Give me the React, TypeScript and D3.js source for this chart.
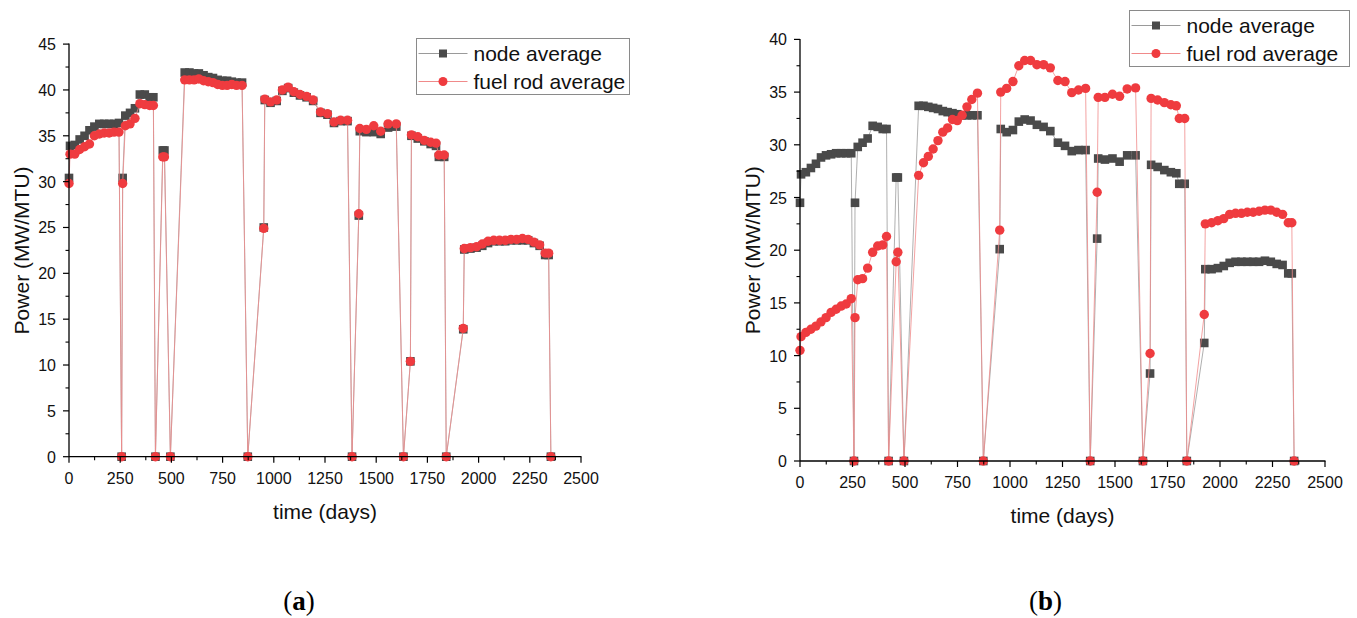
import React from "react";
import * as d3 from "d3";

// shared time grid (days); zero-power points mark shutdowns
const days = [
  0, 5, 28, 52, 76, 100, 124, 148, 172, 196, 220, 244, 257,
  262, 275, 298, 322, 346, 370, 394, 412, 422,
  458, 466, 495,
  565, 588, 611, 634, 657, 680, 703, 726, 749, 772, 795, 818, 845, 873,
  951, 956, 984, 1014, 1042, 1070, 1098, 1128, 1160, 1192, 1228, 1262, 1294, 1326, 1360, 1382,
  1415, 1420, 1452, 1488, 1522, 1558, 1598, 1633,
  1667, 1672, 1703, 1735, 1766, 1792, 1806, 1832, 1842,
  1925, 1930, 1960, 1990, 2018, 2046, 2074, 2102, 2130, 2158, 2186, 2214, 2242, 2270, 2298, 2325, 2342, 2353,
];

const nodeA = [
  30.4, 33.9, 34.0, 34.6, 35.0, 35.6, 36.0, 36.3, 36.3, 36.3, 36.3, 36.4, 0,
  30.4, 37.2, 37.5, 38.0, 39.5, 39.5, 39.2, 39.2, 0,
  33.4, 33.4, 0,
  41.9, 41.9, 41.8, 41.8, 41.6, 41.4, 41.3, 41.1, 41.0, 41.0, 40.9, 40.8, 40.8, 0,
  25.0, 38.9, 38.6, 38.8, 39.9, 40.2, 39.7, 39.4, 39.2, 38.8, 37.5, 37.3, 36.4, 36.6, 36.6, 0,
  26.3, 35.5, 35.4, 35.4, 35.2, 35.9, 36.0, 0,
  10.4, 35.0, 34.7, 34.4, 34.1, 33.9, 32.7, 32.7, 0,
  13.9, 22.6, 22.7, 22.8, 23.0, 23.3, 23.5, 23.5, 23.5, 23.6, 23.6, 23.6, 23.6, 23.3, 23.0, 22.0, 22.0, 0,
];

const fuelA = [
  29.8, 33.0, 33.0, 33.5, 33.8, 34.1, 35.0, 35.2, 35.3, 35.3, 35.4, 35.4, 0,
  29.8, 36.1, 36.3, 36.9, 38.5, 38.4, 38.3, 38.3, 0,
  32.7, 32.7, 0,
  41.1, 41.1, 41.1, 41.2, 41.0, 40.9, 40.8, 40.6, 40.5, 40.5, 40.6, 40.5, 40.5, 0,
  24.9, 39.0, 38.7, 38.9, 40.0, 40.3, 39.8, 39.5, 39.3, 38.9, 37.6, 37.4, 36.5, 36.7, 36.7, 0,
  26.5, 35.8, 35.7, 36.1, 35.5, 36.3, 36.3, 0,
  10.4, 35.1, 34.9, 34.5, 34.3, 34.2, 32.9, 32.9, 0,
  14.0, 22.7, 22.8, 22.9, 23.2, 23.5, 23.6, 23.6, 23.6, 23.7, 23.7, 23.8, 23.7, 23.4, 23.1, 22.2, 22.2, 0,
];

const nodeB = [
  24.5, 27.2, 27.4, 27.8, 28.2, 28.8, 29.0, 29.1, 29.2, 29.2, 29.2, 29.2, 0,
  24.5, 29.8, 30.2, 30.6, 31.8, 31.7, 31.5, 31.5, 0,
  26.9, 26.9, 0,
  33.7, 33.7, 33.6, 33.5, 33.4, 33.2, 33.1, 33.0, 32.9, 32.8, 32.8, 32.8, 32.8, 0,
  20.1, 31.5, 31.2, 31.4, 32.2, 32.4, 32.3, 31.9, 31.7, 31.3, 30.2, 29.9, 29.4, 29.5, 29.5, 0,
  21.1, 28.7, 28.6, 28.7, 28.4, 29.0, 29.0, 0,
  8.3, 28.1, 27.9, 27.6, 27.4, 27.3, 26.3, 26.3, 0,
  11.2, 18.2, 18.2, 18.3, 18.5, 18.8, 18.9, 18.9, 18.9, 18.9, 18.9, 19.0, 18.9, 18.7, 18.6, 17.8, 17.8, 0,
];

const fuelB = [
  10.5, 11.8, 12.2, 12.5, 12.8, 13.2, 13.6, 14.1, 14.4, 14.7, 14.9, 15.4, 0,
  13.6, 17.2, 17.3, 18.3, 19.8, 20.4, 20.5, 21.3, 0,
  18.9, 19.8, 0,
  27.1, 28.3, 28.9, 29.6, 30.4, 31.2, 31.6, 32.4, 32.3, 32.8, 33.6, 34.3, 34.9, 0,
  21.9, 35.0, 35.35, 36.0, 37.5, 38.0, 38.0, 37.6, 37.6, 37.3, 36.1, 36.0, 34.95, 35.2, 35.35, 0,
  25.5, 34.5, 34.5, 34.8, 34.6, 35.3, 35.4, 0,
  10.2, 34.4, 34.25, 34.0, 33.8, 33.7, 32.5, 32.5, 0,
  13.9, 22.5, 22.6, 22.8, 23.0, 23.4, 23.5, 23.5, 23.6, 23.6, 23.7, 23.8, 23.8, 23.6, 23.4, 22.6, 22.6, 0,
];

const xTicks = [0, 250, 500, 750, 1000, 1250, 1500, 1750, 2000, 2250, 2500];
const yTicksA = [0, 5, 10, 15, 20, 25, 30, 35, 40, 45];
const yTicksB = [0, 5, 10, 15, 20, 25, 30, 35, 40];
const seriesNames = ["node average", "fuel rod average"];
const xTitle = "time (days)";
const yTitle = "Power (MW/MTU)";

const SANS = "'Liberation Sans', Arial, sans-serif";
const NODE_COLOR = "#4a4a4a";
const NODE_LINE = "#9a9a9a";
const FUEL_COLOR = "#ef3b3f";
const FUEL_LINE = "#f08a8a";

type PanelProps = {
  xr: [number, number];
  yr: [number, number];
  yMax: number;
  yTicks: number[];
  node: number[];
  fuel: number[];
  legend: { x: number; y: number; w: number; h: number };
  caption: string;
  captionX: number;
};

function Panel({ xr, yr, yMax, yTicks, node, fuel, legend, caption, captionX }: PanelProps) {
  const x = d3.scaleLinear().domain([0, 2500]).range(xr);
  const y = d3.scaleLinear().domain([0, yMax]).range(yr);
  const lineGen = d3
    .line<number>()
    .x((_, i) => x(days[i]))
    .y((d) => y(d));
  const xMinor = xTicks.slice(0, -1).map((t) => t + 125);
  const yMinor = yTicks.slice(0, -1).map((t) => t + 2.5);
  const axisY = yr[0];
  const axisX = xr[0];
  const sq = 8.6;
  const r = 4.7;
  const midX = (xr[0] + xr[1]) / 2;
  const midY = (yr[0] + yr[1]) / 2;
  const rowH = legend.h / 2;
  return (
    <g>
      {/* data: node average */}
      <path d={lineGen(node) || ""} fill="none" stroke={NODE_LINE} strokeWidth={0.8} />
      {node.map((v, i) => (
        <rect key={"n" + i} x={x(days[i]) - sq / 2} y={y(v) - sq / 2} width={sq} height={sq} fill={NODE_COLOR} />
      ))}
      {/* data: fuel rod average */}
      <path d={lineGen(fuel) || ""} fill="none" stroke={FUEL_LINE} strokeWidth={0.8} />
      {fuel.map((v, i) => (
        <circle key={"f" + i} cx={x(days[i])} cy={y(v)} r={r} fill={FUEL_COLOR} />
      ))}

      {/* axes */}
      <line x1={axisX} x2={xr[1] + 0.5} y1={axisY} y2={axisY} stroke="#000" strokeWidth={1.3} />
      <line x1={axisX} x2={axisX} y1={axisY} y2={yr[1] - 0.5} stroke="#000" strokeWidth={1.3} />
      {xTicks.map((t) => (
        <g key={"xt" + t}>
          <line x1={x(t)} x2={x(t)} y1={axisY} y2={axisY + 6} stroke="#000" strokeWidth={1.2} />
          <text x={x(t)} y={axisY + 27} textAnchor="middle" fontFamily={SANS} fontSize={16} fill="#111">
            {t}
          </text>
        </g>
      ))}
      {xMinor.map((t) => (
        <line key={"xm" + t} x1={x(t)} x2={x(t)} y1={axisY} y2={axisY + 3.5} stroke="#000" strokeWidth={1.1} />
      ))}
      {yTicks.map((t) => (
        <g key={"yt" + t}>
          <line x1={axisX - 6} x2={axisX} y1={y(t)} y2={y(t)} stroke="#000" strokeWidth={1.2} />
          <text x={axisX - 13} y={y(t) + 6} textAnchor="end" fontFamily={SANS} fontSize={16} fill="#111">
            {t}
          </text>
        </g>
      ))}
      {yMinor.map((t) => (
        <line key={"ym" + t} x1={axisX - 3.5} x2={axisX} y1={y(t)} y2={y(t)} stroke="#000" strokeWidth={1.1} />
      ))}
      <text x={midX} y={axisY + 62} textAnchor="middle" fontFamily={SANS} fontSize={21} fill="#111">
        {xTitle}
      </text>
      <text
        transform={`translate(${axisX - 40},${midY}) rotate(-90)`}
        textAnchor="middle"
        fontFamily={SANS}
        fontSize={21}
        fill="#111"
      >
        {yTitle}
      </text>

      {/* legend */}
      <rect x={legend.x} y={legend.y} width={legend.w} height={legend.h} fill="#fff" stroke="#8a8a8a" strokeWidth={1} />
      {seriesNames.map((name, k) => {
        const cy = legend.y + rowH * k + rowH / 2 + 1;
        const lx0 = legend.x + 2;
        const lx1 = legend.x + 51;
        const mx = (lx0 + lx1) / 2;
        return (
          <g key={name}>
            <line x1={lx0} x2={lx1} y1={cy} y2={cy} stroke={k === 0 ? NODE_LINE : FUEL_LINE} strokeWidth={1} />
            {k === 0 ? (
              <rect x={mx - 4} y={cy - 4} width={8} height={8} fill={NODE_COLOR} />
            ) : (
              <circle cx={mx} cy={cy} r={4.5} fill={FUEL_COLOR} />
            )}
            <text x={legend.x + 57} y={cy + 7.5} fontFamily={SANS} fontSize={21} fill="#111">
              {name}
            </text>
          </g>
        );
      })}

      {/* caption */}
      <text x={captionX} y={610} textAnchor="middle" fontFamily="'Liberation Serif', 'Times New Roman', serif" fontSize={27} fill="#000">
        (<tspan fontWeight="bold">{caption}</tspan>)
      </text>
    </g>
  );
}

export default function App() {
  return (
    <svg
      width={1357}
      height={618}
      style={{ position: "absolute", left: 0, top: 0, background: "#fff" }}
    >
      <rect width={1357} height={618} fill="#fff" />
      <Panel
        xr={[69, 581]}
        yr={[456.7, 44.1]}
        yMax={45}
        yTicks={yTicksA}
        node={nodeA}
        fuel={fuelA}
        legend={{ x: 416.5, y: 38.5, w: 213, h: 56 }}
        caption="a"
        captionX={299}
      />
      <Panel
        xr={[800, 1325]}
        yr={[461, 39.4]}
        yMax={40}
        yTicks={yTicksB}
        node={nodeB}
        fuel={fuelB}
        legend={{ x: 1129.5, y: 10.5, w: 220, h: 56 }}
        caption="b"
        captionX={1045.5}
      />
    </svg>
  );
}
